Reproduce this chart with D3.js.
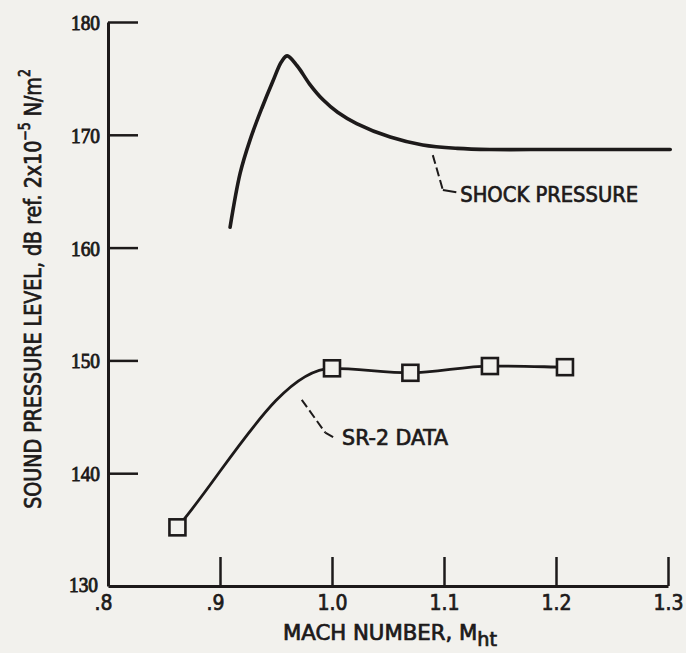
<!DOCTYPE html>
<html>
<head>
<meta charset="utf-8">
<script src="https://cdn.jsdelivr.net/npm/d3@7"></script>
<style>
  html, body { margin: 0; padding: 0; background: #f2f1ed; }
  svg { display: block; }
  .lbl { font-family: 'Liberation Sans Narrow', 'DejaVu Sans Condensed', 'DejaVu Sans', sans-serif; fill: #1d1a1a; stroke: #1d1a1a; stroke-width: 0.7px; }
  .ytick { font-family: 'Liberation Serif', 'DejaVu Serif', serif; fill: #1d1a1a; stroke: #1d1a1a; stroke-width: 0.9px; }
</style>
</head>
<body>
<script>
// values
var xTicks = [0.8, 0.9, 1.0, 1.1, 1.2, 1.3];
var xTickLabels = [".8", ".9", "1.0", "1.1", "1.2", "1.3"];
var yTicks = [130, 140, 150, 160, 170, 180];

// shock pressure curve (Mach, dB)
var shockMach = [0.909, 0.918, 0.927, 0.9375, 0.947, 0.955, 0.960, 0.969, 0.980, 0.992, 1.005, 1.022, 1.052, 1.081, 1.112, 1.141, 1.20, 1.302];
var shockSPL  = [161.8, 166.6, 169.6, 172.4, 174.7, 176.5, 177.0, 176.1, 174.5, 173.1, 172.0, 171.0, 169.8, 169.1, 168.8, 168.7, 168.7, 168.7];

// SR-2 data points
var sr2Mach = [0.862, 1.0, 1.070, 1.141, 1.208];
var sr2SPL  = [135.2, 149.3, 148.9, 149.5, 149.4];

// leader lines for the two labels: [mach, dB]
var shockLeader = [[1.090, 168.2], [1.099, 165.1], [1.111, 164.9]];
var sr2Leader   = [[0.973, 146.5], [0.994, 143.6], [1.001, 143.2]];

var W = 686, H = 653;
var margin = {top: 22, right: 18, bottom: 67, left: 108};
var width = W - margin.left - margin.right;
var height = H - margin.top - margin.bottom;
var ink = "#1d1a1a";
var paper = "#f2f1ed";

var svg = d3.select("body").append("svg")
    .attr("width", W)
    .attr("height", H);

var g = svg.append("g")
    .attr("transform", "translate(" + margin.left + "," + margin.top + ")");

var x = d3.scaleLinear().domain([0.8, 1.3]).range([0, width]);
var y = d3.scaleLinear().domain([130, 180]).range([height, 0]);

// squeeze a text element to a given width
function fit(t, w, cx, cy, rot) {
    var len = t.node().getComputedTextLength();
    var k = w / len;
    t.attr("transform", "translate(" + cx + "," + cy + ")" + (rot ? " rotate(" + rot + ")" : "") + " scale(" + k + ",1)");
}

// hermite spline: monotone tangents inside, end tangents = f * secant
function hermite(pts, f) {
    var n = pts.length, t = [];
    for (var i = 0; i < n; i++) {
        if (i == 0) {
            t.push(f * (pts[1][1] - pts[0][1]) / (pts[1][0] - pts[0][0]));
        } else if (i == n - 1) {
            t.push(f * (pts[i][1] - pts[i-1][1]) / (pts[i][0] - pts[i-1][0]));
        } else {
            var h0 = pts[i][0] - pts[i-1][0], h1 = pts[i+1][0] - pts[i][0];
            var s0 = (pts[i][1] - pts[i-1][1]) / h0, s1 = (pts[i+1][1] - pts[i][1]) / h1;
            if (s0 * s1 <= 0) { t.push(0); continue; }
            var p = (s0 * h1 + s1 * h0) / (h0 + h1);
            t.push(Math.sign(s0) * Math.min(Math.abs(s0) * 2, Math.abs(s1) * 2, Math.abs(p)));
        }
    }
    var path = d3.path();
    path.moveTo(pts[0][0], pts[0][1]);
    for (var j = 1; j < n; j++) {
        var h = (pts[j][0] - pts[j-1][0]) / 3;
        path.bezierCurveTo(pts[j-1][0] + h, pts[j-1][1] + t[j-1] * h,
                           pts[j][0] - h, pts[j][1] - t[j] * h,
                           pts[j][0], pts[j][1]);
    }
    return path.toString();
}

// axes
var xAxis = d3.axisBottom(x)
    .tickValues(xTicks)
    .tickFormat(function (d, i) { return xTickLabels[i]; })
    .tickSizeInner(-29)
    .tickSizeOuter(0)
    .tickPadding(9);

var yAxis = d3.axisLeft(y)
    .tickValues(yTicks)
    .tickFormat(d3.format("d"))
    .tickSizeInner(-30)
    .tickSizeOuter(0)
    .tickPadding(8);

var gx = g.append("g").attr("transform", "translate(0," + height + ")").call(xAxis);
var gy = g.append("g").call(yAxis);

[gx, gy].forEach(function (a) {
    a.select(".domain").attr("stroke", ink).attr("stroke-width", 3);
    a.selectAll(".tick line").attr("stroke", ink).attr("stroke-width", 2.5);
});
gy.selectAll(".tick").filter(function (d) { return d === 130; }).select("line").remove();
gx.selectAll(".tick").filter(function (d) { return d === 0.8; }).select("line").remove();

gx.selectAll(".tick text")
    .attr("class", "lbl")
    .attr("font-size", 21)
    .attr("dx", function (d) { return d < 1 ? -5 : 0; });

gy.selectAll(".tick text")
    .attr("class", "ytick")
    .attr("font-size", 21)
    .attr("textLength", 29)
    .attr("lengthAdjust", "spacingAndGlyphs")
    .attr("dy", function (d) { return d === 130 ? "0.25em" : "0.36em"; })
    .attr("dx", function (d) { return d === 130 ? -2 : 0; });

// shock pressure curve
var shock = shockMach.map(function (m, i) { return [m, shockSPL[i]]; });
var line = d3.line()
    .x(function (d) { return x(d[0]); })
    .y(function (d) { return y(d[1]); })
    .curve(d3.curveCatmullRom.alpha(0.5));

g.append("path")
    .datum(shock)
    .attr("d", line)
    .attr("fill", "none")
    .attr("stroke", ink)
    .attr("stroke-width", 3.6)
    .attr("stroke-linejoin", "round")
    .attr("stroke-linecap", "round");

// SR-2 data
var sr2 = sr2Mach.map(function (m, i) { return [m, sr2SPL[i]]; });
var sr2px = sr2.map(function (d) { return [x(d[0]), y(d[1])]; });
g.append("path")
    .attr("d", hermite(sr2px, 1.15))
    .attr("fill", "none")
    .attr("stroke", ink)
    .attr("stroke-width", 2.8);

var sq = 16;
g.selectAll("rect.pt")
    .data(sr2)
    .enter().append("rect")
    .attr("class", "pt")
    .attr("x", function (d) { return x(d[0]) - sq / 2; })
    .attr("y", function (d) { return y(d[1]) - sq / 2; })
    .attr("width", sq)
    .attr("height", sq)
    .attr("fill", paper)
    .attr("stroke", ink)
    .attr("stroke-width", 2.6);

// leaders
var lead = d3.line()
    .x(function (d) { return x(d[0]); })
    .y(function (d) { return y(d[1]); });

[shockLeader, sr2Leader].forEach(function (L) {
    g.append("path")
        .attr("d", lead([L[0], L[1]]))
        .attr("fill", "none")
        .attr("stroke", ink)
        .attr("stroke-width", 2)
        .attr("stroke-dasharray", "9,4");
    g.append("path")
        .attr("d", lead([L[1], L[2]]))
        .attr("fill", "none")
        .attr("stroke", ink)
        .attr("stroke-width", 2);
});

var t1 = g.append("text").attr("class", "lbl").attr("font-size", 22).text("SHOCK PRESSURE");
fit(t1, 178, x(1.1145), y(164.0));

var t2 = g.append("text").attr("class", "lbl").attr("font-size", 21).text("SR-2 DATA");
fit(t2, 106, x(1.009), y(142.5));

// x axis title
var xt = g.append("text").attr("class", "lbl").attr("font-size", 21).attr("text-anchor", "middle");
xt.append("tspan").text("MACH NUMBER,  M");
xt.append("tspan").attr("font-size", 19).attr("dy", "0.3em").text("ht");
fit(xt, 214, width / 2 + 2, height + 54);

// y axis title
var yt = g.append("text").attr("class", "lbl").attr("font-size", 23).attr("text-anchor", "middle");
yt.append("tspan").text("SOUND PRESSURE LEVEL,  dB ref.  2x10");
yt.append("tspan").attr("font-size", 15).attr("dy", "-0.75em").text("\u22125");
yt.append("tspan").attr("dy", "0.5em").text(" N/m");
yt.append("tspan").attr("font-size", 15).attr("dy", "-0.75em").text("2");
fit(yt, 440, -67, 267, -90);
</script>
</body>
</html>
